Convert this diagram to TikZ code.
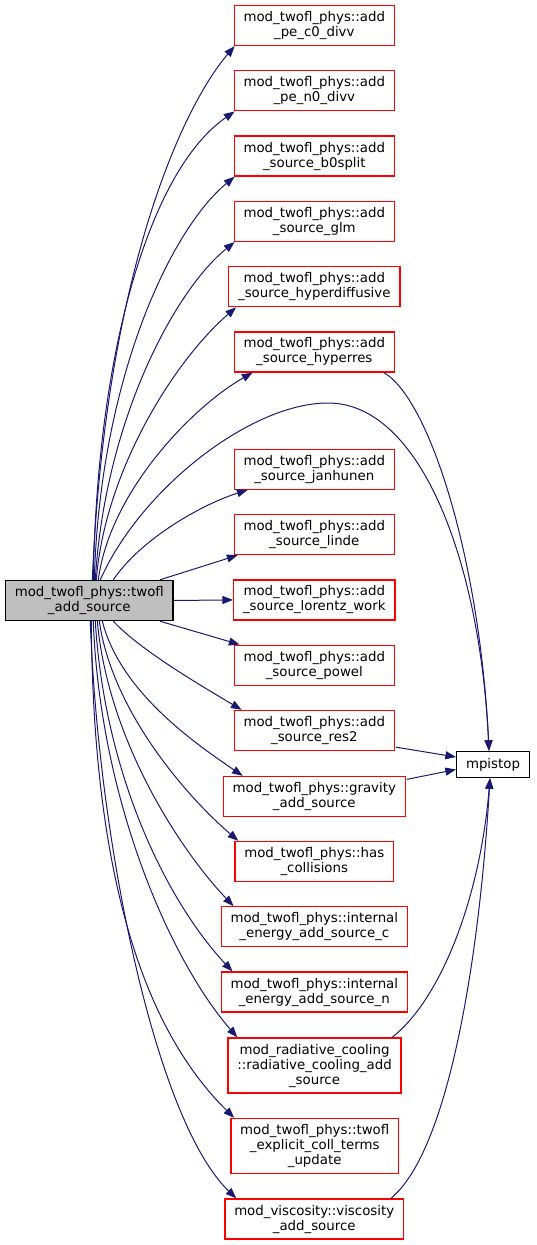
\documentclass[tikz,border=0pt]{standalone}
\usepackage{fontspec}
\setmainfont{DejaVu Sans}
\usetikzlibrary{arrows.meta,calc}
\definecolor{edgeblue}{HTML}{191970}
\definecolor{boxred}{HTML}{FF0000}
\definecolor{rootgrey}{HTML}{BFBFBF}
\tikzset{
  fnbox/.style={draw=boxred, line width=1pt, align=center, inner xsep=7pt,
    inner ysep=4.4pt, minimum height=30pt, font=\fontsize{10}{11.25}\selectfont},
  rootbox/.style={fnbox, draw=black, fill=rootgrey},
  leafbox/.style={fnbox, draw=black, minimum height=19.5pt},
  callarrow/.style={draw=edgeblue, line width=0.75pt, -{Triangle[length=8pt,width=6pt]}}
}
\begin{document}
\begin{tikzpicture}[x=0.75pt,y=-0.75pt]
            \useasboundingbox (0,0) rectangle (536,1245);

            % Drawing root node
            \node[rootbox] (main) at (89.3,600.5) {mod\_twofl\_phys::twofl\\\_add\_source};%

            % Drawing callee nodes
            \node[fnbox] (pec) at (314.3,25.5) {mod\_twofl\_phys::add\\\_pe\_c0\_divv};%
            \node[fnbox] (pen) at (314.3,90.8) {mod\_twofl\_phys::add\\\_pe\_n0\_divv};%
            \node[fnbox] (bsplit) at (314.3,156.1) {mod\_twofl\_phys::add\\\_source\_b0split};%
            \node[fnbox] (glm) at (314.3,221.4) {mod\_twofl\_phys::add\\\_source\_glm};%
            \node[fnbox] (hdiff) at (314.3,286.7) {mod\_twofl\_phys::add\\\_source\_hyperdiffusive};%
            \node[fnbox] (hres) at (314.3,352) {mod\_twofl\_phys::add\\\_source\_hyperres};%
            \node[fnbox] (janh) at (314.3,469.3) {mod\_twofl\_phys::add\\\_source\_janhunen};%
            \node[fnbox] (linde) at (314.3,534.6) {mod\_twofl\_phys::add\\\_source\_linde};%
            \node[fnbox] (lorw) at (314.3,599.9) {mod\_twofl\_phys::add\\\_source\_lorentz\_work};%
            \node[fnbox] (powel) at (314.3,665.2) {mod\_twofl\_phys::add\\\_source\_powel};%
            \node[fnbox] (res2) at (314.3,730.5) {mod\_twofl\_phys::add\\\_source\_res2};%
            \node[fnbox] (grav) at (314.3,796.5) {mod\_twofl\_phys::gravity\\\_add\_source};%
            \node[fnbox] (hcoll) at (314.3,861.5) {mod\_twofl\_phys::has\\\_collisions};%
            \node[fnbox] (ienc) at (314.3,926.8) {mod\_twofl\_phys::internal\\\_energy\_add\_source\_c};%
            \node[fnbox] (ienn) at (314.3,992.1) {mod\_twofl\_phys::internal\\\_energy\_add\_source\_n};%
            \node[fnbox] (radc) at (314.5,1065.5) {mod\_radiative\_cooling\\::radiative\_cooling\_add\\\_source};%
            \node[fnbox] (expl) at (314.7,1146) {mod\_twofl\_phys::twofl\\\_explicit\_coll\_terms\\\_update};%
            \node[fnbox] (visc) at (314.2,1219) {mod\_viscosity::viscosity\\\_add\_source};%

            % Drawing leaf node
            \node[leafbox] (mpi) at (493,764.5) {mpistop};%

            % Drawing edges going up
            \draw[callarrow] ($(main.north)+(3,0)$) .. controls (105,280) and (180,110) .. ($(pec.south west)+(1,0)$);%
            \draw[callarrow] ($(main.north)+(4,0)$) .. controls (97,350) and (150,170) .. ($(pen.south west)+(1,0)$);%
            \draw[callarrow] ($(main.north)+(5,0)$) .. controls (100,380) and (170,230) .. ($(bsplit.south west)+(1,0)$);%
            \draw[callarrow] ($(main.north)+(6,0)$) .. controls (105,420) and (175,290) .. ($(glm.south west)+(1,0)$);%
            \draw[callarrow] ($(main.north)+(7,0)$) .. controls (105,470) and (175,360) .. ($(hdiff.south west)+(8,0)$);%
            \draw[callarrow] ($(main.north)+(9,0)$) .. controls (110,490) and (195,405) .. ($(hres.south west)+(19,0)$);%
            \draw[callarrow] ($(main.north)+(11,0)$) .. controls (140,490) and (250,403) .. (328,403)
                .. controls (420,403) and (480,560) .. ($(mpi.north)+(-4,0)$);%
            \draw[callarrow] ($(main.north)+(24,0)$) .. controls (140,540) and (200,505) .. ($(janh.south west)+(14,0)$);%
            \draw[callarrow] ($(main.north east)+(-14,0)$) -- ($(linde.south west)+(4,0)$);%

            % Drawing edge to the right
            \draw[callarrow] (main.east) -- (lorw.west);%

            % Drawing edges going down
            \draw[callarrow] ($(main.south east)+(-14,0)$) -- ($(powel.north west)+(6,0)$);%
            \draw[callarrow] ($(main.south)+(24,0)$) .. controls (140,650) and (200,685) .. ($(res2.north west)+(8,0)$);%
            \draw[callarrow] ($(main.south)+(13,0)$) .. controls (120,690) and (190,740) .. ($(grav.north west)+(20,0)$);%
            \draw[callarrow] ($(main.south)+(10,0)$) .. controls (112,710) and (185,795) .. ($(hcoll.north west)+(4,0)$);%
            \draw[callarrow] ($(main.south)+(8,0)$) .. controls (108,740) and (180,850) .. ($(ienc.north west)+(13,0)$);%
            \draw[callarrow] ($(main.south)+(6,0)$) .. controls (105,780) and (170,905) .. ($(ienn.north west)+(12,0)$);%
            \draw[callarrow] ($(main.south)+(4,0)$) .. controls (100,800) and (170,960) .. ($(radc.north west)+(10,0)$);%
            \draw[callarrow] ($(main.south)+(2,0)$) .. controls (93,880) and (145,1030) .. ($(expl.north west)+(4,0)$);%
            \draw[callarrow] ($(main.south)+(1,0)$) .. controls (98,840) and (155,1120) .. ($(visc.north west)+(12,0)$);%

            % Drawing edges into mpistop
            \draw[callarrow] ($(hres.south east)+(-11,0)$) .. controls (430,400) and (480,560) .. ($(mpi.north)+(-4,0)$);%
            \draw[callarrow] ($(res2.south east)+(1,-4)$) -- ($(mpi.west)+(0,-7.5)$);%
            \draw[callarrow] ($(grav.north east)+(1,3.5)$) -- ($(mpi.west)+(0,5)$);%
            \draw[callarrow] ($(radc.north east)+(-9.6,0)$) .. controls (440,1000) and (480,900) .. ($(mpi.south)+(-3,0)$);%
            \draw[callarrow] ($(visc.north east)+(-13.3,0)$) .. controls (450,1150) and (480,950) .. ($(mpi.south)+(-3,0)$);%
\end{tikzpicture}
\end{document}
